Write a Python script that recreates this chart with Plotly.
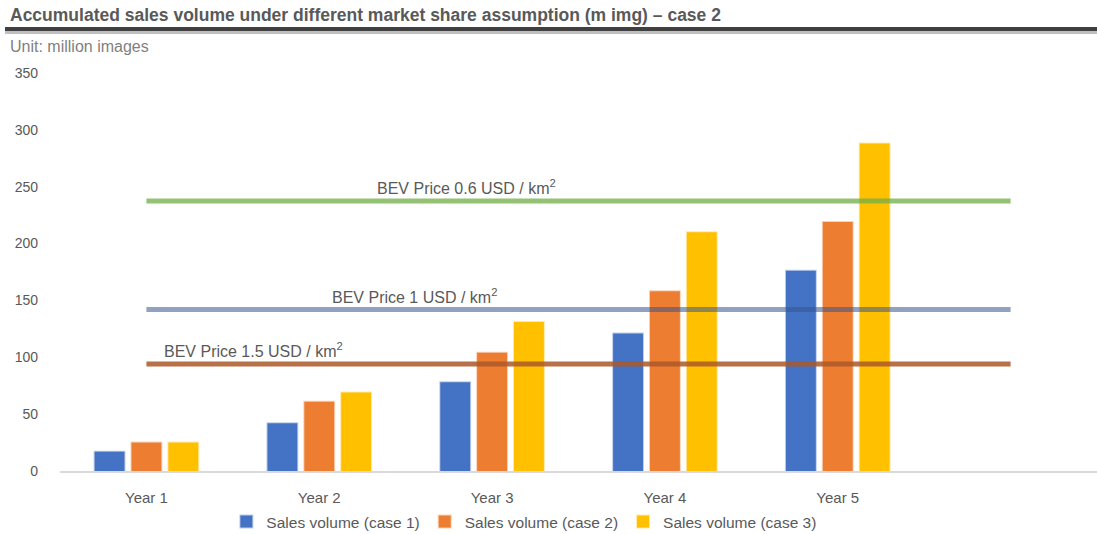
import plotly.graph_objects as go

categories = ["Year 1", "Year 2", "Year 3", "Year 4", "Year 5"]
series_names = ["Sales volume (case 1)", "Sales volume (case 2)", "Sales volume (case 3)"]
case1 = [17, 42, 78, 121, 176]
case2 = [25, 61, 104, 158, 219]
case3 = [25, 69, 131, 210, 288]
threshold_labels = ["BEV Price 0.6 USD / km<sup>2</sup>", "BEV Price 1 USD / km<sup>2</sup>", "BEV Price 1.5 USD / km<sup>2</sup>"]
threshold_values = [237.5, 142, 94]
y_ticks = [0, 50, 100, 150, 200, 250, 300, 350]

W, H = 1097, 534
L, R, T, B = 60, 0, 73, 63

bar_colors = ["#4472C4", "#ED7D31", "#FFC000"]
bar_edge = ["rgba(68,114,196,0.35)", "rgba(237,125,49,0.35)", "rgba(255,192,0,0.35)"]
line_colors = ["rgba(112,173,71,0.75)", "rgba(54,84,140,0.55)", "rgba(170,88,40,0.85)"]
label_x = [1.85, 1.55, 0.62]
FONT = "Liberation Sans"

fig = go.Figure()
xpos = list(range(len(categories)))
for vals, name, c, e in zip([case1, case2, case3], series_names, bar_colors, bar_edge):
    fig.add_trace(go.Bar(x=xpos, y=vals, name=name, marker=dict(color=c, line=dict(color=e, width=2))))

line_x = [0, len(categories)]
for v, c in zip(threshold_values, line_colors):
    fig.add_trace(go.Scatter(x=line_x, y=[v, v], mode="lines", line=dict(color=c, width=5),
                             showlegend=False, hoverinfo="skip"))

for lab, v, lx in zip(threshold_labels, threshold_values, label_x):
    fig.add_annotation(x=lx, y=v, text=lab, showarrow=False, yanchor="bottom", yshift=2,
                       font=dict(family=FONT, size=16, color="#595959"))

def py(p):
    return 1 - (p - T) / (H - T - B)

def px_(p):
    return (p - L) / (W - L - R)

# title, subtitle and underline
fig.add_annotation(xref="paper", yref="paper", x=px_(8), y=py(15),
                   xanchor="left", yanchor="middle", showarrow=False,
                   text="<b>Accumulated sales volume under different market share assumption (m img) – case 2</b>",
                   font=dict(family=FONT, size=17.5, color="#595959"))
fig.add_annotation(xref="paper", yref="paper", x=px_(8), y=py(46),
                   xanchor="left", yanchor="middle", showarrow=False,
                   text="Unit: million images",
                   font=dict(family=FONT, size=16, color="#7f7f7f"))

fig.add_shape(type="line", xref="paper", yref="paper", x0=px_(5), x1=px_(1097), y0=py(29), y1=py(29),
              line=dict(color="#404040", width=4))
fig.add_shape(type="line", xref="paper", yref="paper", x0=px_(5), x1=px_(1097), y0=py(32.5), y1=py(32.5),
              line=dict(color="#bfbfbf", width=3))

fig.update_layout(
    width=W, height=H,
    margin=dict(l=L, r=R, t=T, b=B),
    plot_bgcolor="white", paper_bgcolor="white",
    barmode="group", bargap=0.36, bargroupgap=0.19,
    font=dict(family=FONT, color="#595959"),
    legend=dict(orientation="h", xref="container", yref="container", x=0.478, xanchor="center",
                y=(H - 522) / H, yanchor="middle", font=dict(size=15.5, color="#595959"),
                itemwidth=30, traceorder="normal"),
    xaxis=dict(range=[-0.5, 5.5], tickmode="array", tickvals=xpos, ticktext=categories,
               showgrid=False, zeroline=False, showline=True, linecolor="#d9d9d9", linewidth=2,
               ticks="", ticklabelstandoff=12, tickfont=dict(size=15, color="#595959")),
    yaxis=dict(range=[0, 350], tickmode="array", tickvals=y_ticks, showgrid=False, zeroline=False,
               showline=False, ticks="", ticklabelstandoff=21, tickfont=dict(size=14, color="#595959")),
)

fig.write_html("out.html")
